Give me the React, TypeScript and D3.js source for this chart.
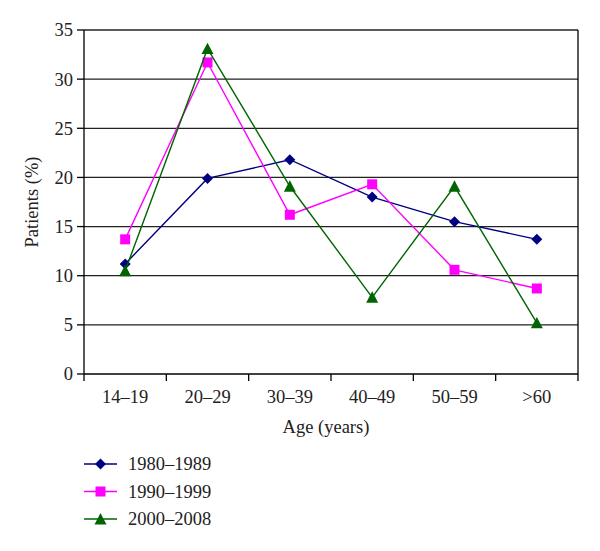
import React from "react";
import * as d3 from "d3";

const categories = ["14–19", "20–29", "30–39", "40–49", "50–59", ">60"];
const seriesNames = ["1980–1989", "1990–1999", "2000–2008"];
const s1980 = [11.2, 19.9, 21.8, 18.0, 15.5, 13.7];
const s1990 = [13.7, 31.7, 16.2, 19.3, 10.6, 8.7];
const s2000 = [10.5, 33.1, 19.1, 7.8, 19.1, 5.2];
const yTicks = [0, 5, 10, 15, 20, 25, 30, 35];
const colors = ["#000080", "#FF00FF", "#006400"];
const shapes = ["diamond", "square", "triangle"];

const W = 600, H = 551;
const left = 84, right = 578, top = 30, bottom = 374;
const font = "'Liberation Serif', 'Times New Roman', serif";
const fs = 18.5;

function Marker({ shape, x, y, color }: { shape: string; x: number; y: number; color: string }) {
  if (shape === "diamond") {
    const r = 5.5;
    return <path d={`M${x},${y - r}L${x + r},${y}L${x},${y + r}L${x - r},${y}Z`} fill={color} />;
  }
  if (shape === "square") {
    const r = 5;
    return <rect x={x - r} y={y - r} width={2 * r} height={2 * r} fill={color} />;
  }
  const r = 6;
  return <path d={`M${x},${y - r}L${x + r},${y + r * 0.9}L${x - r},${y + r * 0.9}Z`} fill={color} />;
}

export default function App() {
  const x = d3.scaleBand().domain(categories).range([left, right]);
  const y = d3.scaleLinear().domain([0, 35]).range([bottom, top]);
  const series = [s1980, s1990, s2000];
  const line = d3
    .line<number>()
    .x((_, i) => (x(categories[i]) as number) + x.bandwidth() / 2)
    .y((d) => y(d));

  const legendY = [464, 491.5, 519];

  return (
    <svg width={W} height={H} style={{ position: "absolute", left: 0, top: 0, background: "#fff" }} fontFamily={font}>
      <rect width={W} height={H} fill="#fff" />
      {yTicks.map((t) => (
        <g key={t}>
          <line x1={left} x2={right} y1={y(t)} y2={y(t)} stroke={t === 0 ? "#000" : "#222"} strokeWidth={1.3} />
          <line x1={left - 7} x2={left} y1={y(t)} y2={y(t)} stroke="#000" strokeWidth={1.3} />
          <text x={left - 11} y={y(t)} dy="0.35em" textAnchor="end" fontSize={fs} fill="#222">
            {t}
          </text>
        </g>
      ))}
      <line x1={left} x2={left} y1={top} y2={bottom + 7} stroke="#000" strokeWidth={1.3} />
      <line x1={right} x2={right} y1={top} y2={bottom + 7} stroke="#000" strokeWidth={1.3} />
      {categories.map((c, i) => (
        <g key={c}>
          {i > 0 && (
            <line
              x1={x(c) as number}
              x2={x(c) as number}
              y1={bottom}
              y2={bottom + 7}
              stroke="#000"
              strokeWidth={1.3}
            />
          )}
          <text x={(x(c) as number) + x.bandwidth() / 2} y={403} textAnchor="middle" fontSize={fs} fill="#222">
            {c}
          </text>
        </g>
      ))}
      <text x={326} y={433} textAnchor="middle" fontSize={fs} fill="#222">
        Age (years)
      </text>
      <text transform={`translate(38,${(top + bottom) / 2}) rotate(-90)`} textAnchor="middle" fontSize={fs} fill="#222">
        Patients (%)
      </text>
      {series.map((s, k) => (
        <g key={k}>
          <path d={line(s) as string} fill="none" stroke={colors[k]} strokeWidth={1.4} />
          {s.map((v, i) => (
            <Marker
              key={i}
              shape={shapes[k]}
              x={(x(categories[i]) as number) + x.bandwidth() / 2}
              y={y(v)}
              color={colors[k]}
            />
          ))}
        </g>
      ))}
      {seriesNames.map((n, k) => (
        <g key={n}>
          <line x1={84} x2={117} y1={legendY[k]} y2={legendY[k]} stroke={colors[k]} strokeWidth={1.4} />
          <Marker shape={shapes[k]} x={100.5} y={legendY[k]} color={colors[k]} />
          <text x={128} y={legendY[k]} dy="0.35em" fontSize={fs} fill="#222">
            {n}
          </text>
        </g>
      ))}
    </svg>
  );
}
